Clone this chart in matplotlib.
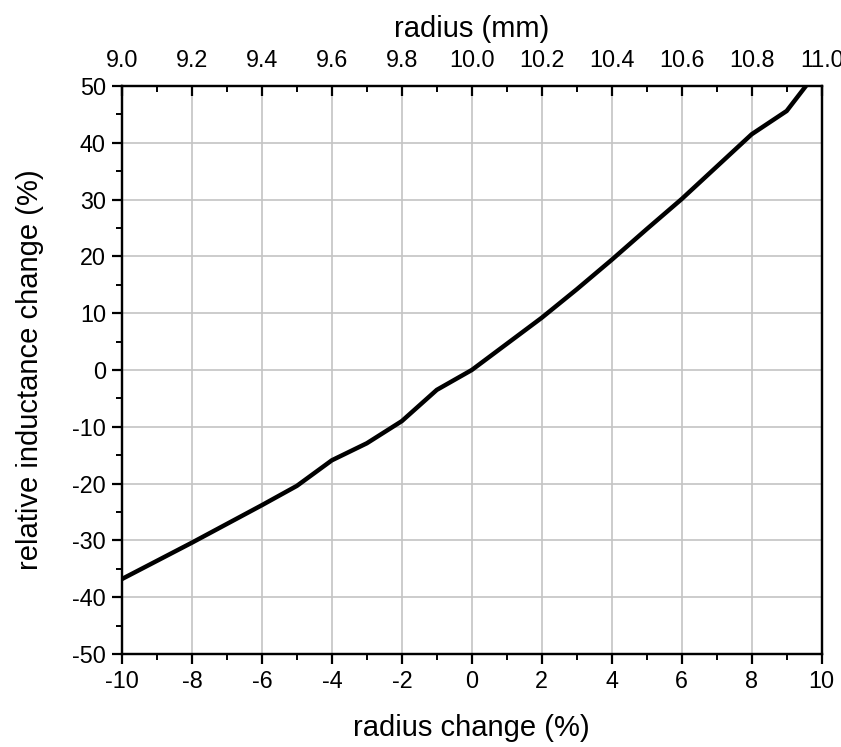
import numpy as np
import matplotlib
matplotlib.use("Agg")
import matplotlib.pyplot as plt
from matplotlib.ticker import MultipleLocator, FormatStrFormatter

plt.rcParams['font.family'] = ['Liberation Sans', 'DejaVu Sans']
plt.rcParams['axes.unicode_minus'] = False

# radius change (%) vs relative inductance change (%)
radius_change = [-10, -9, -8, -7, -6, -5, -4, -3, -2, -1, 0,
                 1, 2, 3, 4, 5, 6, 7, 8, 9, 9.55]
inductance_change = [-36.8, -33.6, -30.4, -27.1, -23.8, -20.4, -15.9, -12.9, -9.0, -3.5, 0.0,
                     4.6, 9.2, 14.2, 19.4, 24.8, 30.1, 35.8, 41.5, 45.6, 50.0]
nominal_radius = 10.0  # mm

fig = plt.figure(figsize=(8.41, 7.47), dpi=100)
ax = fig.add_axes([0.145, 0.1245, 0.832, 0.7604])

ax.plot(radius_change, inductance_change, color='black', lw=3.2,
        solid_capstyle='round', solid_joinstyle='round')

ax.set_xlim(-10, 10)
ax.set_ylim(-50, 50)
ax.xaxis.set_major_locator(MultipleLocator(2))
ax.xaxis.set_minor_locator(MultipleLocator(1))
ax.yaxis.set_major_locator(MultipleLocator(10))
ax.yaxis.set_minor_locator(MultipleLocator(5))
ax.grid(True, which='major', color='#c4c4c4', lw=1.2)
ax.set_axisbelow(True)

ax.tick_params(which='major', direction='out', length=7.5, width=1.6, labelsize=16.8, pad=4)
ax.tick_params(which='minor', direction='out', length=4, width=1.4)
for s in ax.spines.values():
    s.set_linewidth(1.6)

ax.set_xlabel('radius change (%)', fontsize=21, labelpad=15)
ax.set_ylabel('relative inductance change (%)', fontsize=21, labelpad=20)

# top axis: absolute radius
top = ax.twiny()
top.set_xlim(nominal_radius * (1 + np.array(ax.get_xlim()) / 100))
top.xaxis.set_major_locator(MultipleLocator(0.2))
top.xaxis.set_minor_locator(MultipleLocator(0.1))
top.xaxis.set_major_formatter(FormatStrFormatter('%.1f'))
top.tick_params(which='major', direction='in', length=7.5, width=1.6, labelsize=16.8, pad=10)
top.tick_params(which='minor', direction='in', length=4, width=1.4)
top.set_xlabel('radius (mm)', fontsize=21, labelpad=9)
for s in top.spines.values():
    s.set_linewidth(1.6)

fig.savefig('out.png', dpi=100)
